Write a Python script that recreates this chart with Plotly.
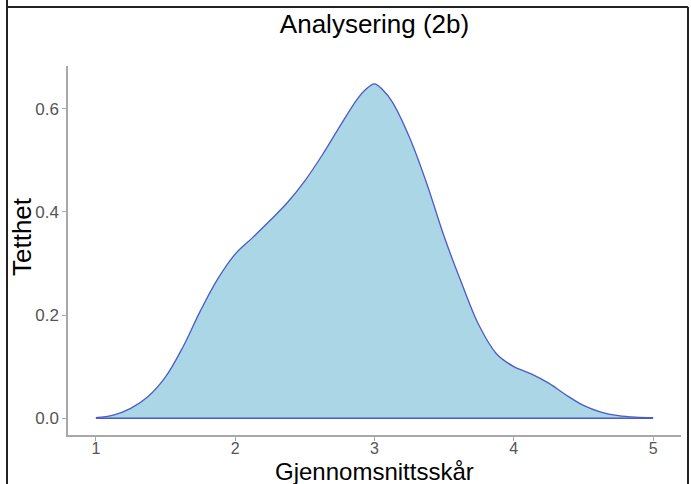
import plotly.graph_objects as go

# Density estimates
score = [1.0, 1.125, 1.25, 1.375, 1.5, 1.625, 1.75, 1.875, 2.0, 2.125, 2.25, 2.375, 2.5,
         2.625, 2.75, 2.875, 2.94, 3.0, 3.06, 3.125, 3.25, 3.375, 3.5, 3.625, 3.75, 3.875,
         4.0, 4.125, 4.25, 4.375, 4.5, 4.625, 4.75, 4.875, 5.0]
density = [0.001, 0.006, 0.019, 0.042, 0.08, 0.138, 0.208, 0.27, 0.318, 0.35, 0.383, 0.418,
           0.46, 0.51, 0.565, 0.618, 0.638, 0.648, 0.636, 0.614, 0.545, 0.455, 0.352, 0.262,
           0.18, 0.125, 0.1, 0.086, 0.068, 0.045, 0.025, 0.012, 0.005, 0.002, 0.001]

x_ticks = [1, 2, 3, 4, 5]
y_ticks = [0.0, 0.2, 0.4, 0.6]
y_tick_labels = ["0.0", "0.2", "0.4", "0.6"]

title = "Analysering (2b)"
x_title = "Gjennomsnittsskår"
y_title = "Tetthet"

fill_col = "#aad6e5"
line_col = "#4b5bc6"

# plot-area geometry in pixels
W, H = 691, 484
L, R, T, B = 68, 10, 66, 49
PW, PH = W - L - R, H - T - B

fig = go.Figure()
fig.add_trace(go.Scatter(
    x=score, y=density, mode="lines", fill="tozeroy", fillcolor=fill_col,
    line=dict(color=line_col, width=1.3, shape="spline", smoothing=1.0),
    hoverinfo="skip", showlegend=False))
# baseline of the density outline
fig.add_trace(go.Scatter(
    x=[score[0], score[-1]], y=[0, 0], mode="lines",
    line=dict(color=line_col, width=1.3), hoverinfo="skip", showlegend=False))

font_family = "Liberation Sans, Arial, sans-serif"

fig.update_layout(
    width=W, height=H,
    margin=dict(l=L, r=R, t=T, b=B),
    paper_bgcolor="white", plot_bgcolor="white",
    font=dict(family=font_family),
    title=dict(text=title, x=(L + W - R) / 2 / W, xanchor="center",
               y=1 - 24 / H, yanchor="middle",
               font=dict(size=26, color="black", family=font_family)),
    xaxis=dict(range=[0.8, 5.2], tickvals=x_ticks, showgrid=False, zeroline=False,
               showline=True, linecolor="#a8a8a8", linewidth=1.5,
               ticks="outside", ticklen=4, tickcolor="#a8a8a8", tickwidth=1.2,
               ticklabelstandoff=-6,
               tickfont=dict(size=16, color="#555555"), automargin=False),
    yaxis=dict(range=[-0.0325, 0.6825], tickvals=y_ticks, ticktext=y_tick_labels,
               showgrid=False, zeroline=False,
               showline=True, linecolor="#a8a8a8", linewidth=1.5,
               ticks="outside", ticklen=4, tickcolor="#a8a8a8", tickwidth=1.2,
               tickfont=dict(size=17, color="#555555"), automargin=False),
)

# axis titles as annotations at their reference positions
fig.add_annotation(text=x_title, xref="paper", yref="paper",
                   x=(374 - L) / PW, y=(T + PH - 471) / PH,
                   xanchor="center", yanchor="middle", showarrow=False,
                   font=dict(size=24, color="black", family=font_family))
fig.add_annotation(text=y_title, xref="paper", yref="paper",
                   x=(22 - L) / PW, y=(T + PH - 237) / PH, textangle=-90,
                   xanchor="center", yanchor="middle", showarrow=False,
                   font=dict(size=26, color="black", family=font_family))

# Screenshot frame around the chart
frame = dict(color="#222222", width=2)
fx0, fx1, fy0 = (7 - L) / PW, (688 - L) / PW, (T + PH - 7) / PH
fig.add_shape(type="line", xref="paper", yref="paper",
              x0=fx0, x1=fx0, y0=(T + PH - H) / PH, y1=(T + PH) / PH, line=frame)
fig.add_shape(type="line", xref="paper", yref="paper",
              x0=fx0, x1=fx1, y0=fy0, y1=fy0, line=frame)
fig.add_shape(type="line", xref="paper", yref="paper",
              x0=fx1, x1=fx1, y0=(T + PH - H) / PH, y1=fy0, line=frame)

fig.write_html("out.html")
